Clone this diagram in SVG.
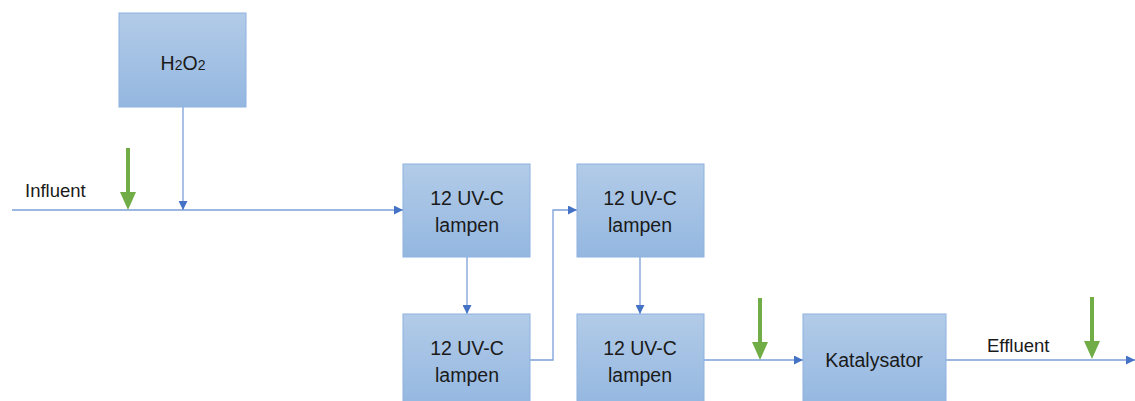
<svg xmlns="http://www.w3.org/2000/svg" width="1135" height="401" viewBox="0 0 1135 401">
<defs>
<linearGradient id="bg" x1="0" y1="0" x2="0" y2="1">
<stop offset="0" stop-color="#b2cbe8"/>
<stop offset="1" stop-color="#94b7e0"/>
</linearGradient>
<marker id="ah" viewBox="0 0 10 10" refX="10" refY="5" markerWidth="9" markerHeight="9" markerUnits="userSpaceOnUse" orient="auto">
<path d="M0,0 L10,5 L0,10 Z" fill="#4472c4"/>
</marker>
<path id="garrow" d="M-2,0 H2 V44 H8 L0,62 L-8,44 H-2 Z" fill="#70ad47"/>
</defs>
<style>
.box{fill:url(#bg);stroke:#8db2e0;stroke-width:1}
.t{font-family:"Liberation Sans",Arial,sans-serif;font-size:19.5px;fill:#1a1a1a;text-anchor:middle}
.l{font-family:"Liberation Sans",Arial,sans-serif;font-size:18.5px;fill:#1a1a1a}
.c{fill:none;stroke:#7a9fd8;stroke-width:1.3}
</style>
<g id="connectors">
<path class="c" d="M12,210 H403" marker-end="url(#ah)"/>
<path class="c" d="M183,107 V210" marker-end="url(#ah)"/>
<path class="c" d="M467,257 V314" marker-end="url(#ah)"/>
<path class="c" d="M530,360 H553 V210 H577" marker-end="url(#ah)"/>
<path class="c" d="M640,257 V314" marker-end="url(#ah)"/>
<path class="c" d="M704,360 H803" marker-end="url(#ah)"/>
<path class="c" d="M946,360 H1135" marker-end="url(#ah)"/>
<use href="#garrow" x="128" y="148"/>
<use href="#garrow" x="760" y="298"/>
<use href="#garrow" x="1092" y="297"/>
</g>
<text class="l" x="25" y="197">Influent</text>
<text class="l" x="987" y="352">Effluent</text>
<g id="h2o2">
<rect class="box" x="119" y="13" width="127" height="94"/>
<text class="t" x="183" y="70">H<tspan font-size="14">2</tspan>O<tspan font-size="14">2</tspan></text>
</g>
<g id="uv1">
<rect class="box" x="403" y="164" width="127" height="93"/>
<text class="t" x="467" y="205">12 UV-C</text>
<text class="t" x="467" y="232">lampen</text>
</g>
<g id="uv2">
<rect class="box" x="403" y="314" width="127" height="93"/>
<text class="t" x="467" y="355">12 UV-C</text>
<text class="t" x="467" y="382">lampen</text>
</g>
<g id="uv3">
<rect class="box" x="577" y="164" width="127" height="93"/>
<text class="t" x="640" y="205">12 UV-C</text>
<text class="t" x="640" y="232">lampen</text>
</g>
<g id="uv4">
<rect class="box" x="577" y="314" width="127" height="93"/>
<text class="t" x="640" y="355">12 UV-C</text>
<text class="t" x="640" y="382">lampen</text>
</g>
<g id="katalysator">
<rect class="box" x="803" y="314" width="143" height="93"/>
<text class="t" x="874" y="367" font-size="20.5">Katalysator</text>
</g>
</svg>
